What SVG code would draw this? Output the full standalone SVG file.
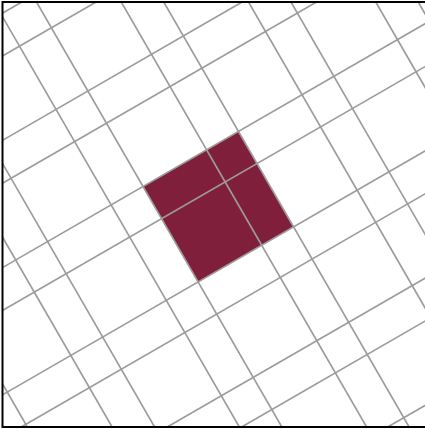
<svg xmlns="http://www.w3.org/2000/svg" width="425" height="429" viewBox="0 0 425 429">
  <defs>
    <style>
      .gl { stroke: #9c9c9c; stroke-width: 1.7; fill: none; }
      .hl { fill: #801f3c; stroke: none; }
      .frame { fill: none; stroke: #000000; stroke-width: 2; }
    </style>
    <clipPath id="inner">
      <rect x="2.5" y="2" width="430" height="425"/>
    </clipPath>
  </defs>
  <rect x="0" y="0" width="425" height="429" fill="#ffffff"/>
  <g clip-path="url(#inner)">
    <g transform="rotate(-30)">
      <g id="highlight">
        <rect class="hl" x="30.6" y="233" width="110.2" height="110.2"/>
      </g>
      <g id="grid">
        <line class="gl" x1="-230" y1="12.6" x2="390" y2="12.6"/>
        <line class="gl" x1="-230" y1="49.8" x2="390" y2="49.8"/>
        <line class="gl" x1="-230" y1="122.8" x2="390" y2="122.8"/>
        <line class="gl" x1="-230" y1="160" x2="390" y2="160"/>
        <line class="gl" x1="-230" y1="233" x2="390" y2="233"/>
        <line class="gl" x1="-230" y1="270.2" x2="390" y2="270.2"/>
        <line class="gl" x1="-230" y1="343.2" x2="390" y2="343.2"/>
        <line class="gl" x1="-230" y1="380.4" x2="390" y2="380.4"/>
        <line class="gl" x1="-230" y1="453.4" x2="390" y2="453.4"/>
        <line class="gl" x1="-230" y1="490.6" x2="390" y2="490.6"/>
        <line class="gl" x1="-230" y1="563.6" x2="390" y2="563.6"/>
        <line class="gl" x1="-189.8" y1="-20" x2="-189.8" y2="610"/>
        <line class="gl" x1="-116.4" y1="-20" x2="-116.4" y2="610"/>
        <line class="gl" x1="-79.6" y1="-20" x2="-79.6" y2="610"/>
        <line class="gl" x1="-6.2" y1="-20" x2="-6.2" y2="610"/>
        <line class="gl" x1="30.6" y1="-20" x2="30.6" y2="610"/>
        <line class="gl" x1="104" y1="-20" x2="104" y2="610"/>
        <line class="gl" x1="140.8" y1="-20" x2="140.8" y2="610"/>
        <line class="gl" x1="214.2" y1="-20" x2="214.2" y2="610"/>
        <line class="gl" x1="251" y1="-20" x2="251" y2="610"/>
        <line class="gl" x1="324.4" y1="-20" x2="324.4" y2="610"/>
        <line class="gl" x1="361.2" y1="-20" x2="361.2" y2="610"/>
      </g>
    </g>
  </g>
  <rect class="frame" x="2.5" y="2" width="430" height="425"/>
</svg>
